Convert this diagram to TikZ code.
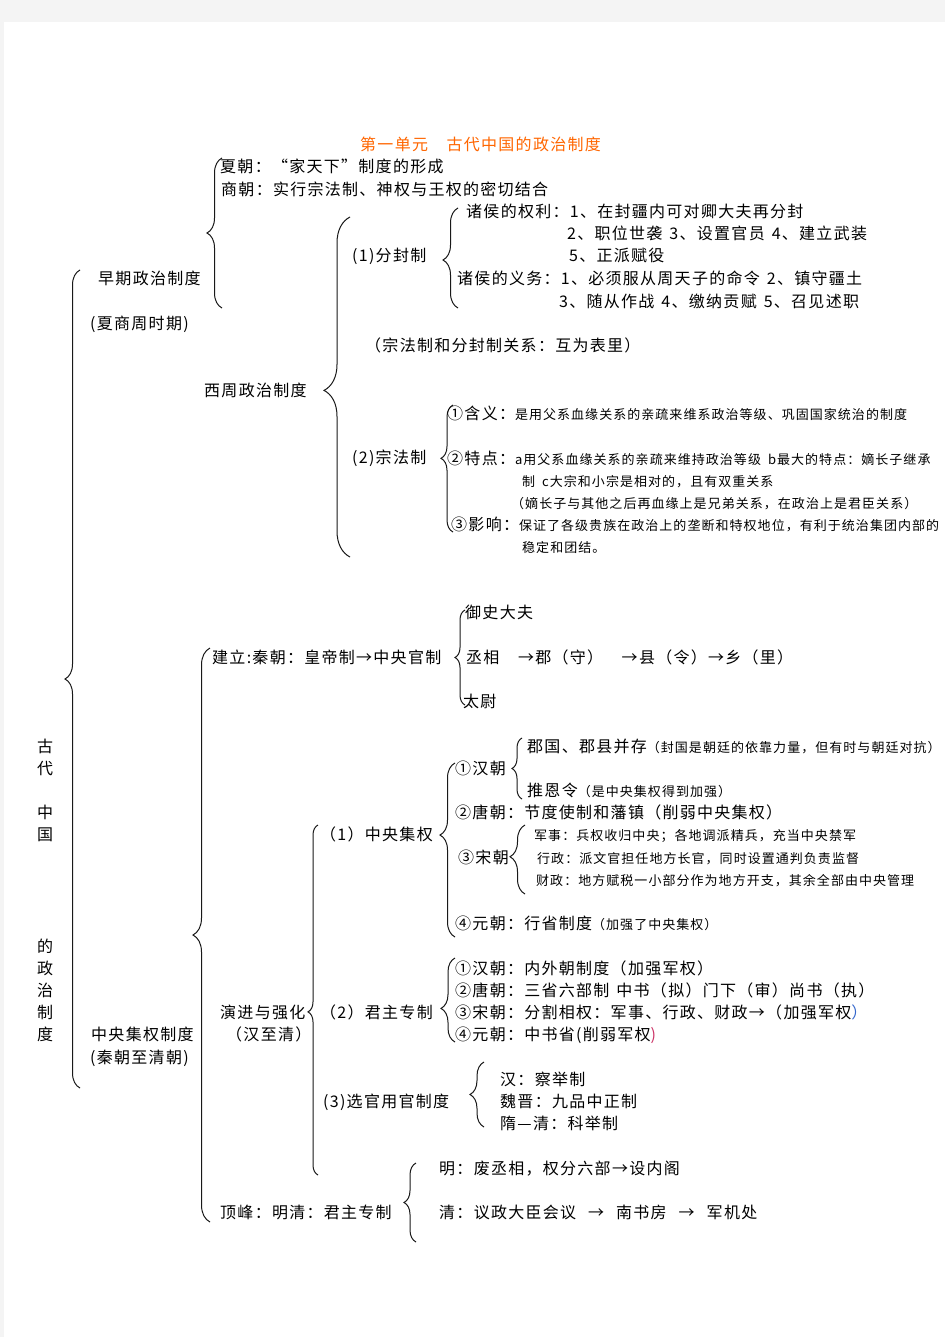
\documentclass[tikz,border=0pt]{standalone}
\usepackage{fontspec}
\setmainfont{Noto Sans CJK SC}[LetterSpace=8]
\usetikzlibrary{decorations.pathreplacing}
\definecolor{bggray}{HTML}{F4F4F4}
\definecolor{titleor}{HTML}{FF6600}
\definecolor{bluep}{HTML}{3366CC}
\definecolor{redp}{HTML}{CC3366}
\newcommand\Lf{\fontsize{16}{18}\selectfont}
\newcommand\Sf{\fontsize{13}{15}\selectfont}
\newcommand\gp{\hspace{7pt}}
\begin{document}
\begin{tikzpicture}[x=1pt,y=-1pt,
  L/.style={anchor=base west, inner sep=0pt, font=\Lf, yshift=-6pt},
  S/.style={anchor=base west, inner sep=0pt, font=\Sf, yshift=-5pt},
  brc/.style={decorate, decoration={brace, amplitude=#1, aspect=0.5}, line width=1pt, draw=black!90},
  brc/.default=14pt]
\useasboundingbox (0,0) rectangle (945,1337);
\clip (0,0) rectangle (945,1337);
\fill[bggray] (0,0) rectangle (945,1337);
\fill[white] (4,22) rectangle (945,1337);

% title
\node[L, text=titleor] (title) at (360,145) {第一单元　古代中国的政治制度};

% vertical root text
\node[L, anchor=base] (v1) at (45,746) {古};
\node[L, anchor=base] (v2) at (45,768) {代};
\node[L, anchor=base] (v3) at (45,812) {中};
\node[L, anchor=base] (v4) at (45,834) {国};
\node[L, anchor=base] (v5) at (45,946) {的};
\node[L, anchor=base] (v6) at (45,968) {政};
\node[L, anchor=base] (v7) at (45,990) {治};
\node[L, anchor=base] (v8) at (45,1012) {制};
\node[L, anchor=base] (v9) at (45,1034) {度};

% outer brace
\coordinate (o1) at (80,1088); \coordinate (o2) at (80,270);
\draw[brc=15pt] (o1) -- (o2);

% ===== early =====
\node[L] (early) at (98,279) {早期政治制度};
\node[L] (early2) at (90,323) {(夏商周时期)};
\coordinate (e1) at (222,308); \coordinate (e2) at (222,158);
\draw[brc=15pt] (e1) -- (e2);
\node[L] (xia) at (220,167) {夏朝：“家天下”制度的形成};
\node[L] (shang) at (221,190) {商朝：实行宗法制、神权与王权的密切结合};

\node[L] (xizhou) at (204,390) {西周政治制度};
\coordinate (w1) at (350,557); \coordinate (w2) at (350,217);
\draw[brc=26pt, decoration={aspect=0.49}] (w1) -- (w2);

\node[L] (fenfeng) at (352,256) {(1)分封制};
\coordinate (f1) at (458,308); \coordinate (f2) at (458,208);
\draw[brc=15pt, decoration={aspect=0.48}] (f1) -- (f2);
\node[L] (ql1) at (466,212) {诸侯的权利：1、在封疆内可对卿大夫再分封};
\node[L] (ql2) at (567,234) {2、职位世袭\gp 3、设置官员\gp 4、建立武装};
\node[L] (ql3) at (569,256) {5、正派赋役};
\node[L] (yw1) at (457,279) {诸侯的义务：1、必须服从周天子的命令\gp 2、镇守疆土};
\node[L] (yw2) at (559,301) {3、随从作战\gp 4、缴纳贡赋\gp 5、召见述职};

\node[L] (rel) at (365,345) {（宗法制和分封制关系：互为表里）};

\node[L] (zongfa) at (352,457) {(2)宗法制};
\coordinate (z1) at (453,532); \coordinate (z2) at (453,405);
\draw[brc=12pt, decoration={aspect=0.58}] (z1) -- (z2);
\node[L] (hy) at (447,413) {①含义：\Sf 是用父系血缘关系的亲疏来维系政治等级、巩固国家统治的制度};
\node[L] (td) at (447,458) {②特点：\Sf a用父系血缘关系的亲疏来维持政治等级\gp b最大的特点：嫡长子继承};
\node[S] (td2) at (522,481) {制\gp c大宗和小宗是相对的，且有双重关系};
\node[S] (td3) at (511,503) {（嫡长子与其他之后再血缘上是兄弟关系，在政治上是君臣关系）};
\node[L] (yx) at (451,524) {③影响：\Sf 保证了各级贵族在政治上的垄断和特权地位，有利于统治集团内部的};
\node[S] (yx2) at (522,547) {稳定和团结。};

% ===== central =====
\node[L] (cen) at (91,1034) {中央集权制度};
\node[L] (cen2) at (90,1057) {(秦朝至清朝)};
\coordinate (c1) at (210,1222); \coordinate (c2) at (210,648);
\draw[brc=17pt] (c1) -- (c2);

\node[L] (qin) at (212,657) {建立:秦朝：皇帝制→中央官制};
\coordinate (q1) at (465,705); \coordinate (q2) at (465,610);
\draw[brc=10pt] (q1) -- (q2);
\node[L] (ys) at (465,612) {御史大夫};
\node[L] (cx) at (466,657) {丞相　→郡（守）　→县（令）→乡（里）};
\node[L] (tw) at (463,701) {太尉};

\node[L] (yj) at (220,1012) {演进与强化};
\node[L] (yj2) at (226,1034) {（汉至清）};
\coordinate (y1) at (318,1175); \coordinate (y2) at (318,825);
\draw[brc=10pt, decoration={aspect=0.466}] (y1) -- (y2);

\node[L] (zy) at (320,834) {（1）中央集权};
\coordinate (p1) at (455,937); \coordinate (p2) at (455,763);
\draw[brc=15pt, decoration={aspect=0.586}] (p1) -- (p2);
\node[L] (han) at (455,768) {①汉朝};
\coordinate (h1) at (522,799); \coordinate (h2) at (522,738);
\draw[brc=10pt] (h1) -- (h2);
\node[L] (jg) at (527,746) {郡国、郡县并存\Sf（封国是朝廷的依靠力量，但有时与朝廷对抗）};
\node[L] (tel) at (527,790) {推恩令\Sf（是中央集权得到加强）};
\node[L] (tang) at (455,812) {②唐朝：节度使制和藩镇（削弱中央集权）};
\node[L] (song) at (458,857) {③宋朝};
\coordinate (s1) at (525,894); \coordinate (s2) at (525,825);
\draw[brc=15pt, decoration={aspect=0.54}] (s1) -- (s2);
\node[S] (js) at (534,835) {军事：兵权收归中央；各地调派精兵，充当中央禁军};
\node[S] (xz) at (537,858) {行政：派文官担任地方长官，同时设置通判负责监督};
\node[S] (cz) at (536,880) {财政：地方赋税一小部分作为地方开支，其余全部由中央管理};
\node[L] (yuan) at (455,923) {④元朝：行省制度\Sf（加强了中央集权）};

\node[L] (jz) at (320,1012) {（2）君主专制};
\coordinate (k1) at (455,1042); \coordinate (k2) at (455,958);
\draw[brc=14pt, decoration={aspect=0.4}] (k1) -- (k2);
\node[L] (k1t) at (455,968) {①汉朝：内外朝制度（加强军权）};
\node[L] (k2t) at (455,990) {②唐朝：三省六部制\gp 中书（拟）门下（审）尚书（执）};
\node[L] (k3t) at (455,1012) {③宋朝：分割相权：军事、行政、财政→（加强军权\textcolor{bluep}{）}};
\node[L] (k4t) at (455,1034) {④元朝：中书省(削弱军权\textcolor{redp}{)}};

\node[L] (xg) at (323,1101) {(3)选官用官制度};
\coordinate (g1) at (484,1127); \coordinate (g2) at (484,1062);
\draw[brc=14pt] (g1) -- (g2);
\node[L] (g1t) at (500,1079) {汉：察举制};
\node[L] (g2t) at (500,1101) {魏晋：九品中正制};
\node[L] (g3t) at (500,1123) {隋—清：科举制};

\node[L] (df) at (220,1212) {顶峰：明清：君主专制};
\coordinate (d1) at (416,1242); \coordinate (d2) at (416,1163);
\draw[brc=12pt] (d1) -- (d2);
\node[L] (ming) at (439,1168) {明：废丞相，权分六部→设内阁};
\node[L] (qing) at (439,1212) {清：议政大臣会议\hspace{12pt}→\hspace{12pt}南书房\hspace{12pt}→\hspace{12pt}军机处};
\end{tikzpicture}
\end{document}
